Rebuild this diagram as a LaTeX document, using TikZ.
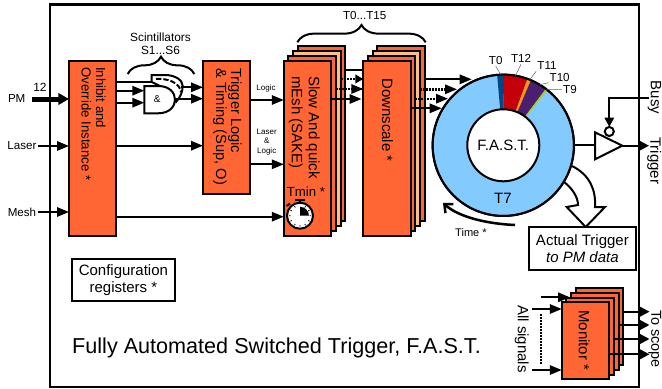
\documentclass[tikz,border=0pt]{standalone}
\usepackage{fontspec}
\setmainfont{Liberation Sans}
\usetikzlibrary{arrows.meta,calc,decorations.pathreplacing}
\definecolor{fastorange}{HTML}{FF6633}
\definecolor{fastpeach}{HTML}{FFBF80}
\definecolor{fastsky}{HTML}{83CAFF}
\definecolor{fastnavy}{HTML}{004586}
\definecolor{fastred}{HTML}{C5000B}
\definecolor{fastamber}{HTML}{FF950E}
\definecolor{fastplum}{HTML}{4B1F6F}
\definecolor{fastolive}{HTML}{AECF00}
\tikzset{
	wire/.style={line width=1.5pt},
	sig/.style={wire,-{Triangle[length=9pt,width=7pt]}},
	sigshort/.style={wire,-{Triangle[length=6pt,width=6.5pt]}},
	sigout/.style={wire,-{Triangle[length=7pt,width=7pt]}},
	dots/.style={dash pattern=on 1.5pt off 0.75pt,line width=1.8pt},
	block/.style={draw=black,line width=1.5pt,fill=fastorange,inner sep=0pt,outer sep=0pt},
	peach/.style={block,fill=fastpeach},
	tall/.style={minimum width=35.6pt,minimum height=131pt},
	trig/.style={minimum width=35.6pt,minimum height=99.4pt},
	mon/.style={minimum width=35.6pt,minimum height=57.75pt},
	plate/.style={draw=black,line width=1.5pt,fill=white,inner sep=0pt,outer sep=0pt,align=center,font=\fontsize{11.25}{12.75}\selectfont},
	vtext/.style={rotate=-90,anchor=north west,align=left,inner sep=0pt,font=\fontsize{11.25}{12.75}\selectfont},
	lbl/.style={inner sep=1pt,outer sep=0pt,font=\fontsize{8.7}{10}\selectfont,align=center},
	tiny/.style={inner sep=0pt,font=\fontsize{6}{7}\selectfont,align=center},
	leader/.style={draw=black!60,line width=0.4pt},
	braced/.style={line width=1.5pt,decorate,decoration={brace,amplitude=13pt}}
}
\newcommand{\fastslice}[3]{\fill[#1] ($(ring)+(#2:53pt)$) arc[start angle=#2,end angle=#3,radius=53pt] -- ($(ring)+(#3:27pt)$) arc[start angle=#3,end angle=#2,radius=27pt] -- cycle;}
\begin{document}
\begin{tikzpicture}[x=0.75pt,y=-0.75pt]
	\useasboundingbox (0,0) rectangle (662,389);
	\draw[line width=1.6pt] (50,4.5) rectangle (639,387);

	% rows of the signals
	\coordinate (rowor) at (0,81.7);
	\coordinate (rowa) at (0,90.7);
	\coordinate (rowb) at (0,102.7);
	\coordinate (rowlogic) at (0,100);
	\coordinate (rowlaser) at (0,145.7);
	\coordinate (rowmix) at (0,164.3);
	\coordinate (rowmesh) at (0,216.7);

	% inputs
	\node[lbl] (pm) at (16.7,99) {PM};
	\node[lbl,font=\fontsize{8.9}{10}\selectfont] (twelve) at (40,87) {12};
	\node[lbl] (laser) at (22,146) {Laser};
	\node[lbl] (mesh) at (22,212) {Mesh};
	\coordinate (pmstart) at (32,99);

	% first blocks
	\node[block,tall] (inhibit) at (92.75,148.25) {};
	\node[vtext,font=\fontsize{9.9}{11}\selectfont] (inhibittxt) at (106,67) {Inhibit and\\Override Instance *};
	\node[block,trig] (trigger) at (226.75,127.25) {};
	\node[vtext,font=\fontsize{11}{11.25}\selectfont] (triggertxt) at (242,68) {Trigger Logic\\\& Timing (Sup, O)};

	\draw[line width=3.75pt,-{Triangle[length=8pt,width=8.5pt]}] (pmstart) -- (inhibit.west |- pmstart);
	\draw[sig] (laser.east) -- (inhibit.west |- laser);
	\draw[sig] (mesh.east) -- (inhibit.west |- mesh);

	% gates
	\node[lbl,font=\fontsize{8.9}{10}\selectfont] (scint) at (160.5,44) {Scintillators\\S1...S6};
	\coordinate (bracel) at (127.7,74);
	\coordinate (bracer) at (194.3,74);
	\draw[braced] (bracel) -- (bracer);
	\coordinate (orin) at (151.7,81.7);
	\coordinate (orout) at (181,87.3);
	\coordinate (andout) at (175,98.7);
	\draw[wire,fill=white] (151.7,82) -- (151.7,75) -- (165,75) .. controls (175,75) and (182.7,80) .. (182.7,86) .. controls (182.7,92) and (180,98) .. (176,102) -- (160,86) -- cycle;
	\draw[wire,dash pattern=on 4pt off 1.5pt] (156,79) .. controls (168,78) and (180,83) .. (181,92);
	\draw[wire,fill=white] (144.3,86) -- (158,86) .. controls (170,86) and (175,93) .. (175,99.7) .. controls (175,106) and (170,113.3) .. (158,113.3) -- (144.3,113.3) -- cycle;
	\node[inner sep=0pt,outer sep=0pt,font=\fontsize{7.5}{8}\selectfont] (gand) at (157.3,99.3) {\&};
	\coordinate (gandw) at (144.3,99.3);

	\draw[wire] (inhibit.east |- rowor) -- (orin);
	\draw[sig] (inhibit.east |- rowa) -- (gandw |- rowa);
	\draw[sig] (inhibit.east |- rowb) -- (gandw |- rowb);
	\draw[sig] (orout) -- (trigger.west |- orout);
	\draw[sig] (andout) -- (trigger.west |- andout);
	\draw[sig] (inhibit.east |- rowlaser) -- (trigger.west |- rowlaser);

	% SAKE stack
	\node[block,tall] (saked) at (321.6,133.3) {};
	\node[peach,tall] (sakec) at (316.9,138.3) {};
	\node[block,tall] (sakeb) at (312.2,143.3) {};
	\node[block,tall] (sakea) at (307.5,148.3) {};
	\node[vtext] (saketxt) at (320,76) {Slow And quick\\mEsh (SAKE)};
	\node[inner sep=0pt,font=\fontsize{9.9}{11}\selectfont] (tmin) at (306,192) {Tmin *};

	% stopwatch
	\node[draw=black,line width=1.5pt,fill=white,circle,minimum size=19.5pt,inner sep=0pt] (watch) at (300,215.7) {};
	\draw[line width=1.5pt] (watch.north) -- (300,200) (295,200) -- (305,200);
	\draw[line width=1.5pt] (286.5,206) -- (290,203.5);
	\fill[black] (watch.center) -- (300,206.8) arc[start angle=90,end angle=0,radius=6.7pt] -- cycle;
	\draw[line width=0.6pt] (309.5,215.7) -- (311,215.7) (308.2,220.45) -- (309.5,221.2) (304.75,223.9) -- (305.5,225.2) (300,225.2) -- (300,226.7) (295.25,223.9) -- (294.5,225.2) (291.8,220.45) -- (290.5,221.2) (290.5,215.7) -- (289,215.7) (291.8,210.95) -- (290.5,210.2) (295.25,207.5) -- (294.5,206.2) (304.75,207.5) -- (305.5,206.2) (308.2,210.95) -- (309.5,210.2);

	% labels between trigger and SAKE
	\node[tiny] (logic) at (266,88) {Logic};
	\node[tiny] (mixed) at (266.7,142) {Laser\\\&\\Logic};
	\draw[sig] (trigger.east |- rowlogic) -- (sakea.west |- rowlogic);
	\draw[sig] (trigger.east |- rowmix) -- (sakea.west |- rowmix);
	\draw[sig] (inhibit.east |- rowmesh) -- (sakea.west |- rowmesh);

	% Downscale stack
	\node[block,tall] (scaled) at (401.1,133.3) {};
	\node[peach,tall] (scalec) at (396.4,138.3) {};
	\node[block,tall] (scaleb) at (391.7,143.3) {};
	\node[block,tall] (scalea) at (387,148.3) {};
	\node[vtext] (scaletxt) at (393.3,78) {Downscale *};

	\node[lbl] (tzero) at (364.7,16) {T0...T15};
	\coordinate (tbracel) at (297.3,42.3);
	\coordinate (tbracer) at (425.7,42.3);
	\draw[braced] (tbracel) -- (tbracer);

	\coordinate (sa) at (0,70);
	\coordinate (sb) at (0,79);
	\coordinate (sc) at (0,89);
	\coordinate (se) at (0,99);
	\draw[wire] (saked.east |- sa) -- (scalea.west |- sa);
	\draw[dots] (sakec.east |- sb) -- (scalea.west |- sb);
	\draw[sigshort] (358,79) -- (scalea.west |- sb);
	\draw[dots] (sakeb.east |- sc) -- (scalea.west |- sc);
	\draw[sig] (353,89) -- (scalea.west |- sc);
	\draw[sig] (sakea.east |- se) -- (361.5,99);

	% hollow arrow under the ring
	\draw[line width=1.5pt,fill=white] (564,182) .. controls (572,188) and (578,197) .. (578,205) -- (566.7,207) -- (585.7,227) -- (605,207) -- (595,207) .. controls (596,190) and (590,175) .. (572,166);

	% ring
	\node[draw=black,line width=1.5pt,fill=fastsky,circle,minimum size=106pt,inner sep=0pt,outer sep=0pt] (ring) at (503.3,145.3) {};
	\fastslice{fastnavy}{95}{89.5}
	\fastslice{fastred}{89.5}{70}
	\fastslice{fastamber}{70}{67}
	\fastslice{fastplum}{67}{53}
	\fastslice{fastolive}{53}{51.5}
	\draw[line width=1.5pt] (ring) circle (53pt);
	\node[draw=black,line width=1.5pt,fill=white,circle,minimum size=54pt,inner sep=0pt,outer sep=0pt,font=\fontsize{11.25}{12.75}\selectfont] (core) at (ring) {F.A.S.T.};
	\node[inner sep=0pt,font=\fontsize{11.25}{12.75}\selectfont] (tseven) at (503,198) {T7};

	\node[lbl] (tz) at (495.7,60.7) {T0};
	\node[lbl] (ttw) at (521,58.7) {T12};
	\node[lbl] (tel) at (547,66) {T11};
	\node[lbl] (tte) at (559.7,77.3) {T10};
	\node[lbl] (tni) at (570,89.7) {T9};
	\draw[leader] (tz.south) -- (ring.92);
	\draw[leader] (ttw.south) -- (ring.80);
	\draw[leader] (tel.south west) -- (ring.68);
	\draw[leader] (tte.south west) -- (ring.59);
	\draw[leader] (tni.west) -- (ring.52);

	% downscale to ring
	\coordinate (ra) at (471.7,79.3);
	\coordinate (rb) at (457,89.3);
	\coordinate (rc) at (448,98.7);
	\coordinate (rd) at (441.7,108.3);
	\draw[sig] (scaled.east |- ra) -- (ra);
	\draw[dots] (scalec.east |- rb) -- (445,89.3);
	\draw[sig] (444,89.3) -- (rb);
	\draw[dots] (scaleb.east |- rc) -- (437,98.7);
	\draw[sig] (436,98.7) -- (rc);
	\draw[sig] (scalea.east |- rd) -- (rd);

	% time arrow
	\coordinate (timea) at (515,225);
	\coordinate (timeb) at (443,203);
	\draw[line width=1.9pt,-{Straight Barb[length=5pt,width=9pt]}] (timea) .. controls (490,224) and (460,218) .. (timeb);
	\node[lbl,font=\fontsize{8.3}{9}\selectfont] (timelbl) at (471,233) {Time *};

	% amplifier
	\coordinate (ampa) at (595,132.3);
	\coordinate (ampb) at (595,159.3);
	\coordinate (ampc) at (622.3,145.7);
	\coordinate (busyend) at (649,98.3);
	\coordinate (trigend) at (649,145.7);
	\draw[wire] (ring.east) -- (ampa |- ring.east);
	\draw[sigout] (ampc) -- (trigend);
	\draw[line width=1.5pt,fill=white] (ampa) -- (ampb) -- (ampc) -- cycle;
	\node[draw=black,line width=1.5pt,fill=white,circle,minimum size=6.8pt,inner sep=0pt,outer sep=0pt] (bubble) at (609.3,131.5) {};
	\draw[sigout] (busyend) -| (bubble.north);
	\node[vtext] (busy) at (661.5,80.7) {Busy};
	\node[vtext] (trigout) at (661.5,137) {Trigger};

	% boxes
	\node[plate,minimum width=80pt,minimum height=32pt] (actual) at (582.4,248.8) {Actual Trigger\\\textit{to PM data}};
	\node[plate,minimum width=77.5pt,minimum height=31.5pt] (config) at (123.4,280) {Configuration\\registers *};
	\node[inner sep=0pt,font=\fontsize{16.2}{18}\selectfont] (title) at (276.5,348) {Fully Automated Switched Trigger, F.A.S.T.};

	% Monitor stack
	\coordinate (mina) at (540.7,297.3);
	\coordinate (minb) at (531.7,309);
	\coordinate (minc) at (531.7,370);
	\node[block,mon] (mond) at (599.6,326.7) {};
	\node[block,mon] (monc) at (594.9,331.4) {};
	\node[block,mon] (monb) at (590.2,336.1) {};
	\draw[sig] (mina) -- (570,297.3);
	\node[block,mon] (mona) at (585.5,340.8) {};
	\node[vtext] (montxt) at (590,310) {Monitor *};
	\node[vtext] (allsig) at (529,305) {All signals};
	\draw[sig] (minb) -- (mona.west |- minb);
	\draw[sig] (minc) -- (mona.west |- minc);
	\coordinate (dota) at (541,314);
	\coordinate (dotb) at (541,365);
	\draw[dots,line width=1.3pt] (dota) -- (dotb);

	\coordinate (oa) at (649.5,311.7);
	\coordinate (ob) at (649.5,325);
	\coordinate (oc) at (649.5,339);
	\coordinate (od) at (649.5,354.3);
	\draw[sigout] (mond.east |- oa) -- (oa);
	\draw[sigout] (monc.east |- ob) -- (ob);
	\draw[sigout] (monb.east |- oc) -- (oc);
	\draw[sigout] (mona.east |- od) -- (od);
	\node[vtext,font=\fontsize{10.8}{12}\selectfont] (scope) at (661.5,310) {To scope};
\end{tikzpicture}
\end{document}
